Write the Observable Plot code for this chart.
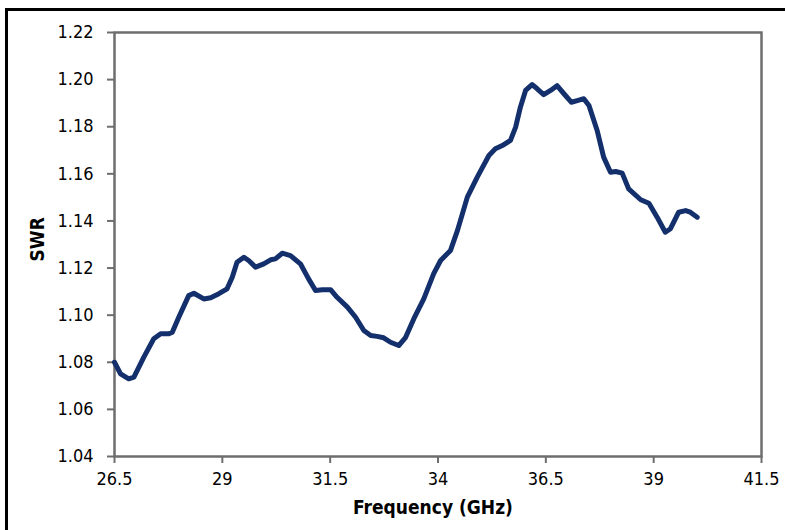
<!DOCTYPE html>
<html>
<head>
<meta charset="utf-8">
<script src="https://cdn.jsdelivr.net/npm/d3@7"></script>
<script src="https://cdn.jsdelivr.net/npm/@observablehq/plot@0.6"></script>
<style>
  html, body { margin: 0; padding: 0; background: #fff; overflow: hidden; }
  #wrap { position: relative; width: 785px; height: 530px; }
  #border { position: absolute; left: 5px; top: 8px; width: 800px; height: 600px;
            border-top: 3px solid #000; border-left: 3px solid #000; pointer-events: none; }
</style>
</head>
<body>
<div id="wrap"><div id="chart"></div><div id="border"></div></div>
<script>
const freq = [26.5, 26.64, 26.83, 26.95, 27.18, 27.41, 27.57, 27.76, 27.84, 27.99,
  28.22, 28.34, 28.57, 28.73, 28.92, 29.11, 29.23, 29.34, 29.50, 29.61,
  29.77, 29.96, 30.12, 30.23, 30.39, 30.58, 30.81, 31.00, 31.16, 31.32,
  31.51, 31.66, 31.90, 32.09, 32.28, 32.44, 32.59, 32.74, 32.90, 33.09,
  33.25, 33.44, 33.67, 33.90, 34.06, 34.29, 34.45, 34.68, 34.91, 35.18,
  35.33, 35.49, 35.68, 35.80, 35.91, 36.03, 36.18, 36.30, 36.45, 36.61,
  36.76, 36.92, 37.09, 37.23, 37.38, 37.50, 37.69, 37.84, 38.00, 38.12,
  38.27, 38.42, 38.70, 38.89, 39.08, 39.27, 39.39, 39.58, 39.74, 39.85, 40.01];
const swr = [1.0800, 1.0751, 1.0730, 1.0737, 1.0822, 1.0900, 1.0921, 1.0921, 1.0928, 1.0991,
  1.1083, 1.1093, 1.1069, 1.1074, 1.1091, 1.1112, 1.1161, 1.1225, 1.1246, 1.1232,
  1.1204, 1.1218, 1.1235, 1.1239, 1.1263, 1.1253, 1.1218, 1.1154, 1.1105, 1.1108,
  1.1108, 1.1076, 1.1034, 1.0991, 1.0935, 1.0914, 1.0910, 1.0904, 1.0885, 1.0871,
  1.0906, 1.0985, 1.1069, 1.1176, 1.1232, 1.1275, 1.1359, 1.1501, 1.1586, 1.1678,
  1.1706, 1.1720, 1.1742, 1.1798, 1.1883, 1.1954, 1.1979, 1.1961, 1.1936, 1.1954,
  1.1974, 1.1940, 1.1904, 1.1911, 1.1919, 1.1890, 1.1784, 1.1671, 1.1607, 1.1610,
  1.1603, 1.1536, 1.1490, 1.1475, 1.1416, 1.1352, 1.1367, 1.1437, 1.1444, 1.1437, 1.1416];
const xTicks = [26.5, 29, 31.5, 34, 36.5, 39, 41.5];
const yTicks = [1.04, 1.06, 1.08, 1.10, 1.12, 1.14, 1.16, 1.18, 1.20, 1.22];
const xTitle = "Frequency (GHz)";
const yTitle = "SWR";

const data = freq.map((f, i) => ({f, s: swr[i]}));
const axisGray = "#6e6e6e";

const chart = Plot.plot({
  width: 785, height: 530,
  marginLeft: 114, marginRight: 24, marginTop: 32, marginBottom: 74,
  x: {domain: [26.5, 41.5]},
  y: {domain: [1.04, 1.22]},
  style: {fontFamily: "'Liberation Sans Narrow', 'DejaVu Sans Condensed', sans-serif", background: "white", overflow: "visible"},
  marks: [
    Plot.frame({stroke: axisGray, strokeWidth: 2.5}),
    Plot.axisX({ticks: xTicks, tickFormat: d => String(d), tickSize: 7, tickPadding: 9,
      stroke: axisGray, strokeWidth: 2, fill: "#000", fontSize: 18, label: null}),
    Plot.axisY({ticks: yTicks, tickFormat: d => d.toFixed(2), tickSize: 7, tickPadding: 14,
      stroke: axisGray, strokeWidth: 2, fill: "#000", fontSize: 18, label: null}),
    Plot.line(data, {x: "f", y: "s", stroke: "#14306c", strokeWidth: 5, curve: "linear"}),
    Plot.text([xTitle], {frameAnchor: "bottom", dy: 57, dx: -5, fontWeight: "bold", fontSize: 19, fill: "#000"}),
    Plot.text([yTitle], {frameAnchor: "left", rotate: -90, dx: -77, dy: 17, fontWeight: "bold", fontSize: 19, fill: "#000"})
  ]
});
document.getElementById("chart").appendChild(chart);
</script>
</body>
</html>
